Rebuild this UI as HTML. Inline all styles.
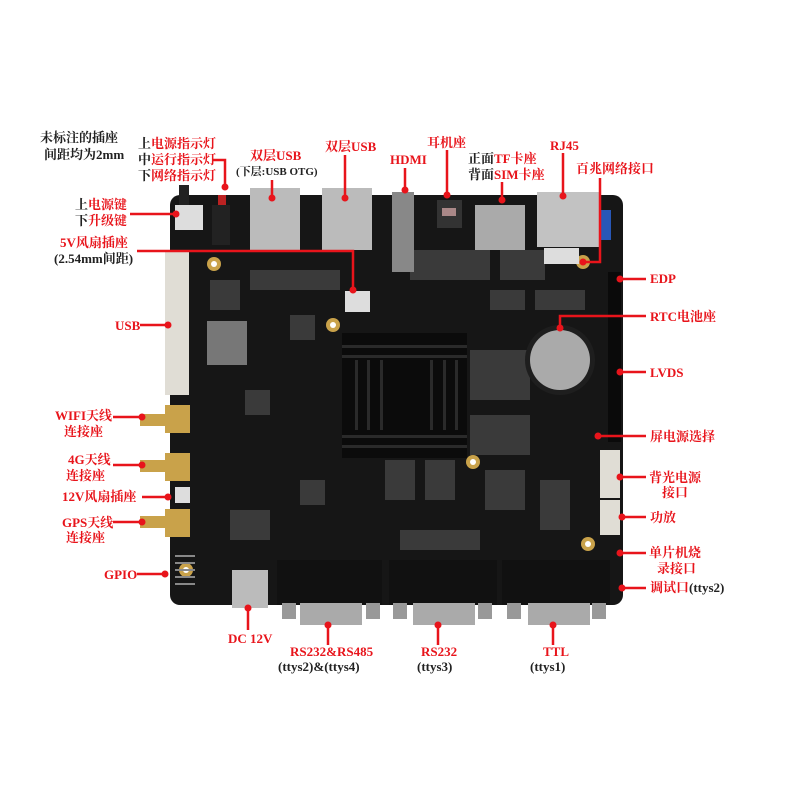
<!DOCTYPE html>
<html><head><meta charset="utf-8"><style>
html,body{margin:0;padding:0;background:#fff}
svg{display:block}
text{font-family:"Liberation Serif","Noto Serif CJK SC",serif;font-weight:bold;font-size:13px}
.r{fill:#e8141b}.k{fill:#222}
</style></head><body>
<svg width="800" height="800" viewBox="0 0 800 800" xmlns="http://www.w3.org/2000/svg">
<!-- board -->
<rect x="170" y="195" width="453" height="410" rx="10" fill="#161616"/>
<!-- dots texture -->
<g fill="#3a3a3a">
<rect x="210" y="280" width="30" height="30"/><rect x="290" y="315" width="25" height="25"/><rect x="245" y="390" width="25" height="25"/>
<rect x="490" y="290" width="35" height="20"/><rect x="535" y="290" width="50" height="20"/><rect x="470" y="350" width="60" height="50"/>
<rect x="470" y="415" width="60" height="40"/><rect x="485" y="470" width="40" height="40"/><rect x="540" y="480" width="30" height="50"/>
<rect x="385" y="460" width="30" height="40"/><rect x="425" y="460" width="30" height="40"/><rect x="300" y="480" width="25" height="25"/>
<rect x="230" y="510" width="40" height="30"/><rect x="400" y="530" width="80" height="20"/><rect x="250" y="270" width="90" height="20"/>
<rect x="410" y="250" width="80" height="30"/><rect x="500" y="250" width="45" height="30"/>
</g>
<!-- heatsink -->
<rect x="342" y="333" width="125" height="125" fill="#0b0b0b"/>
<g fill="#2a2a2a"><rect x="342" y="345" width="125" height="3"/><rect x="342" y="355" width="125" height="3"/><rect x="342" y="435" width="125" height="3"/><rect x="342" y="445" width="125" height="3"/>
<rect x="355" y="360" width="3" height="70"/><rect x="367" y="360" width="3" height="70"/><rect x="380" y="360" width="3" height="70"/><rect x="430" y="360" width="3" height="70"/><rect x="443" y="360" width="3" height="70"/><rect x="455" y="360" width="3" height="70"/></g>
<!-- mount holes -->
<g fill="#c9a24a"><circle cx="214" cy="264" r="7"/><circle cx="333" cy="325" r="7"/><circle cx="473" cy="462" r="7"/><circle cx="583" cy="262" r="7"/><circle cx="588" cy="544" r="7"/><circle cx="186" cy="570" r="7"/></g>
<g fill="#fff"><circle cx="214" cy="264" r="3"/><circle cx="333" cy="325" r="3"/><circle cx="473" cy="462" r="3"/><circle cx="583" cy="262" r="3"/><circle cx="588" cy="544" r="3"/><circle cx="186" cy="570" r="3"/></g>
<!-- wifi module -->
<rect x="207" y="321" width="40" height="44" fill="#777"/>
<!-- RTC -->
<circle cx="560" cy="360" r="35" fill="#1e1e1e"/><circle cx="560" cy="360" r="30" fill="#aaa"/>
<!-- top connectors -->
<rect x="250" y="188" width="50" height="62" fill="#bbb"/><rect x="322" y="188" width="50" height="62" fill="#bbb"/>
<rect x="392" y="192" width="22" height="80" fill="#888"/>
<rect x="437" y="200" width="25" height="28" fill="#333"/><rect x="442" y="208" width="14" height="8" fill="#a88"/>
<rect x="475" y="205" width="50" height="45" fill="#aaa"/>
<rect x="537" y="192" width="63" height="55" fill="#c2c2c2"/>
<rect x="544" y="248" width="35" height="16" fill="#ddd"/>
<rect x="601" y="210" width="10" height="30" fill="#2857b7"/>
<rect x="175" y="205" width="28" height="25" fill="#ddd"/><rect x="179" y="185" width="10" height="20" fill="#222"/>
<rect x="212" y="205" width="18" height="40" fill="#222"/><rect x="218" y="195" width="8" height="10" fill="#b22"/>
<rect x="345" y="291" width="25" height="21" fill="#ddd"/>
<!-- left connectors -->
<rect x="165" y="252" width="24" height="143" fill="#e0ddd5"/>
<g fill="#c9a24a"><rect x="140" y="414" width="30" height="12"/><rect x="165" y="405" width="25" height="28"/><rect x="140" y="460" width="30" height="12"/><rect x="165" y="453" width="25" height="28"/><rect x="140" y="516" width="30" height="12"/><rect x="165" y="509" width="25" height="28"/></g>
<rect x="175" y="487" width="15" height="16" fill="#ddd"/>
<g fill="#888"><rect x="175" y="555" width="20" height="2"/><rect x="175" y="562" width="20" height="2"/><rect x="175" y="569" width="20" height="2"/><rect x="175" y="576" width="20" height="2"/><rect x="175" y="583" width="20" height="2"/></g>
<!-- right connectors -->
<rect x="608" y="272" width="13" height="170" fill="#0a0a0a"/>
<rect x="600" y="450" width="20" height="48" fill="#e0ddd5"/><rect x="600" y="500" width="20" height="35" fill="#e0ddd5"/>
<!-- DC -->
<rect x="232" y="570" width="36" height="38" fill="#bbb"/>
<!-- DB9 -->
<g><rect x="277" y="560" width="105" height="45" fill="#111"/><rect x="300" y="603" width="62" height="22" fill="#aaa"/><rect x="282" y="603" width="14" height="16" fill="#999"/><rect x="366" y="603" width="14" height="16" fill="#999"/>
<rect x="389" y="560" width="108" height="45" fill="#111"/><rect x="413" y="603" width="62" height="22" fill="#aaa"/><rect x="393" y="603" width="14" height="16" fill="#999"/><rect x="478" y="603" width="14" height="16" fill="#999"/>
<rect x="502" y="560" width="108" height="45" fill="#111"/><rect x="528" y="603" width="62" height="22" fill="#aaa"/><rect x="507" y="603" width="14" height="16" fill="#999"/><rect x="592" y="603" width="14" height="16" fill="#999"/></g>

<!-- leader lines -->
<g stroke="#e8141b" stroke-width="2.5" fill="none">
<polyline points="213,160 225,160 225,187"/>
<line x1="272" y1="180" x2="272" y2="198"/>
<line x1="345" y1="155" x2="345" y2="198"/>
<line x1="405" y1="168" x2="405" y2="190"/>
<line x1="447" y1="150" x2="447" y2="195"/>
<line x1="502" y1="182" x2="502" y2="200"/>
<line x1="563" y1="153" x2="563" y2="196"/>
<polyline points="600,178 600,262 583,262"/>
<line x1="130" y1="214" x2="176" y2="214"/>
<polyline points="137,251 353,251 353,290"/>
<line x1="140" y1="325" x2="168" y2="325"/>
<line x1="113" y1="417" x2="142" y2="417"/>
<line x1="113" y1="465" x2="142" y2="465"/>
<line x1="142" y1="497" x2="168" y2="497"/>
<line x1="113" y1="522" x2="142" y2="522"/>
<line x1="137" y1="574" x2="165" y2="574"/>
<line x1="248" y1="608" x2="248" y2="630"/>
<line x1="328" y1="625" x2="328" y2="645"/>
<line x1="438" y1="625" x2="438" y2="645"/>
<line x1="553" y1="625" x2="553" y2="645"/>
<line x1="620" y1="279" x2="646" y2="279"/>
<polyline points="560,328 560,316 646,316"/>
<line x1="620" y1="372" x2="646" y2="372"/>
<line x1="598" y1="436" x2="646" y2="436"/>
<line x1="620" y1="477" x2="646" y2="477"/>
<line x1="622" y1="517" x2="646" y2="517"/>
<line x1="620" y1="553" x2="646" y2="553"/>
<line x1="622" y1="588" x2="646" y2="588"/>
</g>
<g fill="#e8141b">
<circle cx="225" cy="187" r="3.5"/><circle cx="272" cy="198" r="3.5"/><circle cx="345" cy="198" r="3.5"/><circle cx="405" cy="190" r="3.5"/><circle cx="447" cy="195" r="3.5"/><circle cx="502" cy="200" r="3.5"/><circle cx="563" cy="196" r="3.5"/><circle cx="583" cy="262" r="3.5"/>
<circle cx="176" cy="214" r="3.5"/><circle cx="353" cy="290" r="3.5"/><circle cx="168" cy="325" r="3.5"/><circle cx="142" cy="417" r="3.5"/><circle cx="142" cy="465" r="3.5"/><circle cx="168" cy="497" r="3.5"/><circle cx="142" cy="522" r="3.5"/><circle cx="165" cy="574" r="3.5"/>
<circle cx="248" cy="608" r="3.5"/><circle cx="328" cy="625" r="3.5"/><circle cx="438" cy="625" r="3.5"/><circle cx="553" cy="625" r="3.5"/>
<circle cx="620" cy="279" r="3.5"/><circle cx="560" cy="328" r="3.5"/><circle cx="620" cy="372" r="3.5"/><circle cx="598" cy="436" r="3.5"/><circle cx="620" cy="477" r="3.5"/><circle cx="622" cy="517" r="3.5"/><circle cx="620" cy="553" r="3.5"/><circle cx="622" cy="588" r="3.5"/>
</g>

<!-- labels -->
<text x="40" y="142" class="k">未标注的插座</text>
<text x="44" y="159" class="k">间距均为2mm</text>
<text x="138" y="148"><tspan class="k">上</tspan><tspan class="r">电源指示灯</tspan></text>
<text x="138" y="164"><tspan class="k">中</tspan><tspan class="r">运行指示灯</tspan></text>
<text x="138" y="180"><tspan class="k">下</tspan><tspan class="r">网络指示灯</tspan></text>
<text x="250" y="160" class="r">双层USB</text>
<text x="236" y="175" class="k" style="font-size:11px">(下层:USB OTG)</text>
<text x="325" y="151" class="r">双层USB</text>
<text x="390" y="164" class="r">HDMI</text>
<text x="427" y="147" class="r">耳机座</text>
<text x="468" y="163"><tspan class="k">正面</tspan><tspan class="r">TF卡座</tspan></text>
<text x="468" y="179"><tspan class="k">背面</tspan><tspan class="r">SIM卡座</tspan></text>
<text x="550" y="150" class="r">RJ45</text>
<text x="576" y="173" class="r">百兆网络接口</text>
<text x="75" y="209"><tspan class="k">上</tspan><tspan class="r">电源键</tspan></text>
<text x="75" y="225"><tspan class="k">下</tspan><tspan class="r">升级键</tspan></text>
<text x="60" y="247" class="r">5V风扇插座</text>
<text x="54" y="263" class="k">(2.54mm间距)</text>
<text x="115" y="330" class="r">USB</text>
<text x="55" y="420" class="r">WIFI天线</text>
<text x="64" y="436" class="r">连接座</text>
<text x="68" y="464" class="r">4G天线</text>
<text x="66" y="480" class="r">连接座</text>
<text x="62" y="501" class="r">12V风扇插座</text>
<text x="62" y="527" class="r">GPS天线</text>
<text x="66" y="542" class="r">连接座</text>
<text x="104" y="579" class="r">GPIO</text>
<text x="228" y="643" class="r">DC 12V</text>
<text x="290" y="656" class="r">RS232&amp;RS485</text>
<text x="278" y="671" class="k">(ttys2)&amp;(ttys4)</text>
<text x="421" y="656" class="r">RS232</text>
<text x="417" y="671" class="k">(ttys3)</text>
<text x="543" y="656" class="r">TTL</text>
<text x="530" y="671" class="k">(ttys1)</text>
<text x="650" y="283" class="r">EDP</text>
<text x="650" y="321" class="r">RTC电池座</text>
<text x="650" y="377" class="r">LVDS</text>
<text x="650" y="441" class="r">屏电源选择</text>
<text x="649" y="482" class="r">背光电源</text>
<text x="662" y="497" class="r">接口</text>
<text x="650" y="522" class="r">功放</text>
<text x="649" y="557" class="r">单片机烧</text>
<text x="657" y="573" class="r">录接口</text>
<text x="650" y="592"><tspan class="r">调试口</tspan><tspan class="k">(ttys2)</tspan></text>
</svg>
</body></html>
